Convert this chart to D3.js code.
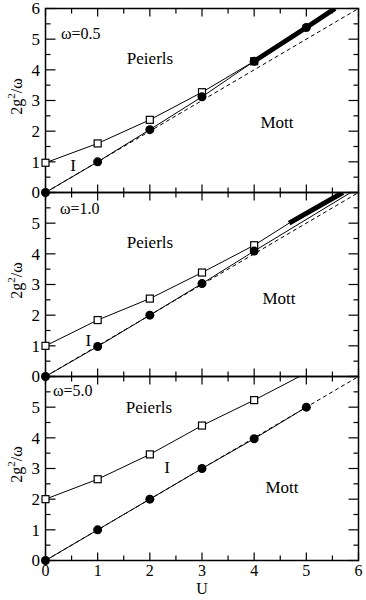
<!DOCTYPE html>
<html>
<head>
<meta charset="utf-8">
<script src="https://cdn.jsdelivr.net/npm/d3@7"></script>
<style>
body { margin: 0; background: #fff; }
</style>
</head>
<body>
<div id="chart"></div>
<script>
// U values where the markers sit
const uVals = [0, 1, 2, 3, 4, 5];

// omega = 0.5
const sqW05 = [0.97, 1.6, 2.37, 3.27, 4.28];
const dotW05 = [0, 1.0, 2.05, 3.12, 4.28, 5.38];
const thickW05 = [[4, 4.28], [5, 5.38], [5.55, 6]];

// omega = 1.0
const sqW10 = [1.0, 1.84, 2.54, 3.39, 4.28];
const dotW10 = [0, 0.98, 2.0, 3.03, 4.09];
const thickW10 = [[4.67, 5.0], [5.7, 6]];
const sqExtW10 = [[4, 4.28], [4.67, 5.0]];
const dotExtW10 = [[4, 4.09], [5.85, 6]];

// omega = 5.0
const sqW50 = [2.0, 2.65, 3.46, 4.4, 5.23];
const dotW50 = [0, 1, 2, 3, 3.97, 5];
const sqExtW50 = [[4, 5.23], [4.87, 6]];

const diagLine = [[0, 0], [6, 6]];
const xTicks = [0, 1, 2, 3, 4, 5, 6];

const panels = [
  { label: 'ω=0.5', sq: sqW05, dot: dotW05, extra: [], thick: thickW05, yTicks: [0, 1, 2, 3, 4, 5, 6],
    peierls: [150, 4.4], mott: [277, 2.3], I: [0.53, 0.9], omega: [61, 5.2] },
  { label: 'ω=1.0', sq: sqW10, dot: dotW10, extra: [sqExtW10, dotExtW10], thick: thickW10, yTicks: [0, 1, 2, 3, 4, 5],
    peierls: [150, 4.4], mott: [279, 2.55], I: [0.82, 1.19], omega: [60, 5.48] },
  { label: 'ω=5.0', sq: sqW50, dot: dotW50, extra: [sqExtW50], thick: null, yTicks: [0, 1, 2, 3, 4, 5],
    peierls: [149, 5.0], mott: [282, 2.41], I: [2.33, 3.06], omega: [53, 5.56] }
];

const W = 366, H = 600;
const left = 45.5, right = 358.5;
const panelH = 184, top0 = 8.5;
const serif = '"Liberation Serif", "Times New Roman", Times, serif';

const svg = d3.select('#chart').append('svg')
  .attr('width', W)
  .attr('height', H)
  .attr('font-family', serif);

const x = d3.scaleLinear().domain([0, 6]).range([left, right]);
const minorX = d3.range(0, 6.01, 0.5);
const minorY = d3.range(0, 6.01, 0.5);

panels.forEach(function (p, i) {
  const top = top0 + i * panelH;
  const y = d3.scaleLinear().domain([0, 6]).range([top + panelH, top]);
  const g = svg.append('g');

  g.append('clipPath').attr('id', 'clip' + i)
    .append('rect').attr('x', left).attr('y', top).attr('width', right - left).attr('height', panelH);

  // ticks on all four sides
  minorX.forEach(function (v) {
    const len = Number.isInteger(v) ? 8 : 5;
    g.append('line').attr('x1', x(v)).attr('x2', x(v)).attr('y1', top + panelH).attr('y2', top + panelH - len)
      .attr('stroke', '#000').attr('stroke-width', 1.2);
    g.append('line').attr('x1', x(v)).attr('x2', x(v)).attr('y1', top).attr('y2', top + len)
      .attr('stroke', '#000').attr('stroke-width', 1.2);
  });
  minorY.forEach(function (v) {
    const len = Number.isInteger(v) ? 10 : 5;
    g.append('line').attr('x1', left).attr('x2', left + len).attr('y1', y(v)).attr('y2', y(v))
      .attr('stroke', '#000').attr('stroke-width', 1.2);
    g.append('line').attr('x1', right).attr('x2', right - len).attr('y1', y(v)).attr('y2', y(v))
      .attr('stroke', '#000').attr('stroke-width', 1.2);
  });

  g.append('rect').attr('x', left).attr('y', top).attr('width', right - left).attr('height', panelH)
    .attr('fill', 'none').attr('stroke', '#000').attr('stroke-width', 1.5);

  // y tick labels
  g.selectAll('.ytl').data(p.yTicks).enter().append('text')
    .attr('x', 40).attr('y', function (d) { return y(d); }).attr('dy', '0.35em')
    .attr('text-anchor', 'end').attr('font-size', 17)
    .text(function (d) { return d; });

  // y axis title
  const yt = g.append('text')
    .attr('transform', 'translate(22,' + (top + panelH / 2 - 4) + ') rotate(-90)')
    .attr('text-anchor', 'middle').attr('font-size', 16);
  yt.append('tspan').text('2g');
  yt.append('tspan').attr('dy', -7).attr('font-size', 11).text('2');
  yt.append('tspan').attr('dy', 7).text('/ω');

  const plot = g.append('g').attr('clip-path', 'url(#clip' + i + ')');
  const line = d3.line().x(function (d) { return x(d[0]); }).y(function (d) { return y(d[1]); });

  plot.append('path').attr('d', line(diagLine))
    .attr('fill', 'none').attr('stroke', '#000').attr('stroke-width', 1).attr('stroke-dasharray', '4,3');

  const sqPts = p.sq.map(function (v, k) { return [uVals[k], v]; });
  const dotPts = p.dot.map(function (v, k) { return [uVals[k], v]; });

  plot.append('path').attr('d', line(sqPts)).attr('fill', 'none').attr('stroke', '#000').attr('stroke-width', 1);
  plot.append('path').attr('d', line(dotPts)).attr('fill', 'none').attr('stroke', '#000').attr('stroke-width', 1);
  p.extra.forEach(function (seg) {
    plot.append('path').attr('d', line(seg)).attr('fill', 'none').attr('stroke', '#000').attr('stroke-width', 1);
  });
  if (p.thick) {
    plot.append('path').attr('d', line(p.thick)).attr('fill', 'none').attr('stroke', '#000')
      .attr('stroke-width', 5);
  }

  g.selectAll('.sq').data(sqPts).enter().append('rect')
    .attr('x', function (d) { return x(d[0]) - 3.5; })
    .attr('y', function (d) { return y(d[1]) - 3.5; })
    .attr('width', 7).attr('height', 7)
    .attr('fill', '#fff').attr('stroke', '#000').attr('stroke-width', 1.2);

  g.selectAll('.dot').data(dotPts).enter().append('circle')
    .attr('cx', function (d) { return x(d[0]); })
    .attr('cy', function (d) { return y(d[1]); })
    .attr('r', 4.5).attr('fill', '#000');

  // annotations
  g.append('text').attr('x', p.omega[0]).attr('y', y(p.omega[1])).attr('dy', '0.35em')
    .attr('font-size', 16).text(p.label);
  g.append('text').attr('x', p.peierls[0]).attr('y', y(p.peierls[1])).attr('dy', '0.35em')
    .attr('text-anchor', 'middle').attr('font-size', 17).text('Peierls');
  g.append('text').attr('x', p.mott[0]).attr('y', y(p.mott[1])).attr('dy', '0.35em')
    .attr('text-anchor', 'middle').attr('font-size', 17).text('Mott');
  g.append('text').attr('x', x(p.I[0])).attr('y', y(p.I[1])).attr('dy', '0.35em')
    .attr('text-anchor', 'middle').attr('font-size', 17).text('I');
});

// x tick labels and title on the bottom panel
const bottom = top0 + 3 * panelH;
svg.selectAll('.xtl').data(xTicks).enter().append('text')
  .attr('x', function (d) { return x(d); }).attr('y', bottom + 15.5)
  .attr('text-anchor', 'middle').attr('font-size', 16)
  .text(function (d) { return d; });
svg.append('text').attr('x', x(3)).attr('y', bottom + 33.5)
  .attr('text-anchor', 'middle').attr('font-size', 16).text('U');
</script>
</body>
</html>
